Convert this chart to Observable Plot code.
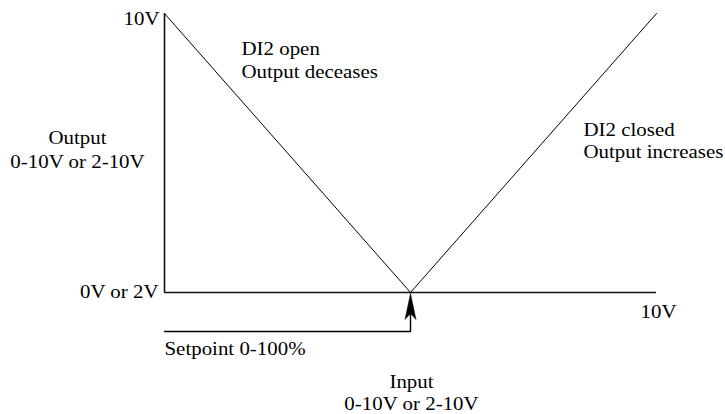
<!DOCTYPE html>
<html>
<head>
<meta charset="utf-8">
<script src="https://cdn.jsdelivr.net/npm/d3@7"></script>
<script src="https://cdn.jsdelivr.net/npm/@observablehq/plot@0.6"></script>
<style>
  html, body { margin: 0; padding: 0; background: #fff; }
  svg text { font-family: 'Liberation Serif', 'Times New Roman', Times, serif !important; }
</style>
</head>
<body>
<div id="chart"></div>
<script>
// ---- data ----
const inputs = [0, 5, 10];          // input (0..10 V)
const outputs = [10, 0, 10];        // output (0..10 V)
const setpoint = 5;                 // setpoint position on input axis
const yTickLabels = ["0V or 2V", "10V"];
const xTickLabels = ["10V"];
const yTitle = ["Output", "0-10V or 2-10V"];
const xTitle = ["Input", "0-10V or 2-10V"];
const setpointLabel = "Setpoint 0-100%";
const openLabel = ["DI2 open", "Output deceases"];
const closedLabel = ["DI2 closed", "Output increases"];

// ---- layout ----
const W = 725, H = 414;
const mL = 164, mR = 69, mT = 13, mB = 122;
const kx = (W - mL - mR) / 10, ky = (H - mT - mB) / 10;
const px = (p) => (p - mL) / kx;          // pixel -> x data
const py = (p) => (H - mB - p) / ky;      // pixel -> y data
const FS = 19;
const FF = "'Liberation Serif', 'Times New Roman', Times, serif";
const font = {fontSize: FS, fill: "black", fontFamily: FF};

const vdata = inputs.map((x, i) => ({x, y: outputs[i]}));
const spY = py(331);
const setpointPath = [{x: 0, y: spY}, {x: setpoint, y: spY}, {x: setpoint, y: py(314)}];
const headPath = [
  {x: setpoint, y: py(293)},
  {x: setpoint - 5.5 / kx, y: py(319)},
  {x: setpoint, y: py(313)},
  {x: setpoint + 5.5 / kx, y: py(319)},
  {x: setpoint, y: py(293)}
];

const chart = Plot.plot({
  width: W, height: H,
  marginLeft: mL, marginRight: mR, marginTop: mT, marginBottom: mB,
  x: {domain: [0, 10], axis: null},
  y: {domain: [0, 10], axis: null},
  style: {fontFamily: FF, background: "white"},
  marks: [
    Plot.ruleX([0], {y1: 0, y2: 10, stroke: "#111", strokeWidth: 1.6}),
    Plot.ruleY([0], {x1: 0, x2: 10, stroke: "#111", strokeWidth: 1.6}),
    Plot.line(vdata, {x: "x", y: "y", stroke: "black", strokeWidth: 1}),
    Plot.line(setpointPath, {x: "x", y: "y", stroke: "black", strokeWidth: 1.4}),
    Plot.line(headPath, {x: "x", y: "y", stroke: "black", strokeWidth: 0.5, fill: "black"}),
    // y tick labels
    Plot.text([yTickLabels[1]], {x: px(159), y: py(24), text: d => d, textAnchor: "end", lineAnchor: "bottom", ...font}),
    Plot.text([yTickLabels[0]], {x: px(158), y: py(297), text: d => d, textAnchor: "end", lineAnchor: "bottom", ...font}),
    // x tick label
    Plot.text(xTickLabels, {x: 10, y: py(317), dx: 2, text: d => d, textAnchor: "middle", lineAnchor: "bottom", ...font}),
    // titles
    Plot.text([yTitle.join("\n")], {x: px(77), y: py(167), text: d => d, textAnchor: "middle", lineAnchor: "bottom", lineHeight: 24 / FS, ...font}),
    Plot.text([xTitle.join("\n")], {x: setpoint, y: py(409), dx: 1, text: d => d, textAnchor: "middle", lineAnchor: "bottom", lineHeight: 22 / FS, ...font}),
    Plot.text([setpointLabel], {x: 0, y: py(354), text: d => d, textAnchor: "start", lineAnchor: "bottom", ...font}),
    Plot.text([openLabel.join("\n")], {x: px(241), y: py(77), text: d => d, textAnchor: "start", lineAnchor: "bottom", lineHeight: 23 / FS, ...font}),
    Plot.text([closedLabel.join("\n")], {x: px(583), y: py(157), text: d => d, textAnchor: "start", lineAnchor: "bottom", lineHeight: 22 / FS, ...font})
  ]
});

// widen the serif glyphs slightly to match the reference's horizontal stretch
chart.querySelectorAll("text").forEach(t => {
  const tr = t.getAttribute("transform");
  if (tr) t.setAttribute("transform", tr + " scale(1.1,1)");
  else {
    const x = t.getAttribute("x") || 0, y = t.getAttribute("y") || 0;
    t.removeAttribute("x"); t.removeAttribute("y");
    t.setAttribute("transform", `translate(${x},${y}) scale(1.1,1)`);
  }
});
document.getElementById("chart").appendChild(chart);
</script>
</body>
</html>
